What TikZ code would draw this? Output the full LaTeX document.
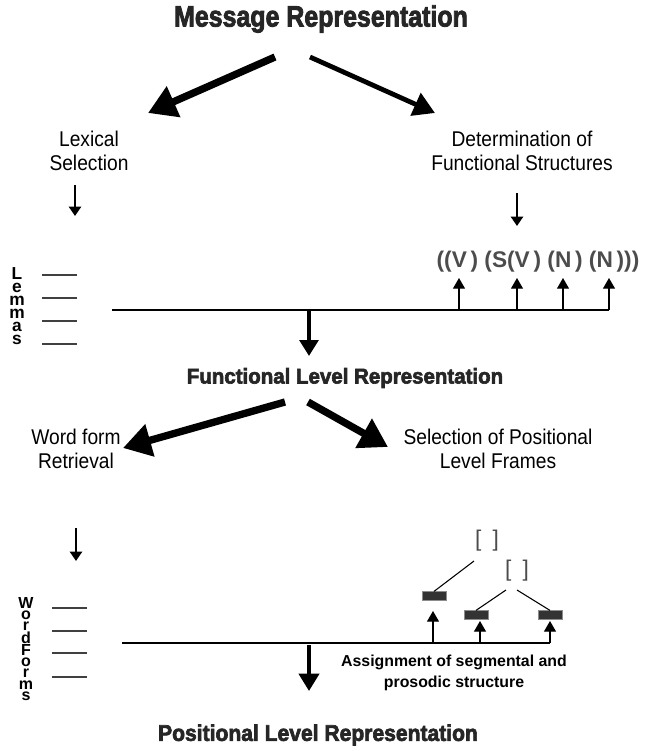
\documentclass[tikz,border=0pt]{standalone}
\usepackage{fontspec}
\setmainfont{Liberation Sans}
\newfontfamily\heavyfont[BoldFeatures={FakeBold=3}]{Liberation Sans}
\usetikzlibrary{arrows.meta}
\tikzset{
  title/.style={font=\heavyfont\bfseries, text=black!85, inner sep=0pt},
  lbl/.style={font=\fontsize{16}{17.5}\selectfont, align=center, inner sep=0pt},
  small/.style={font=\fontsize{11.9}{15.75}\selectfont\bfseries, align=center, inner sep=0pt},
  bigarrow/.style={line width=5.5pt, -{Triangle[length=21pt,width=24pt]}},
  medarrow/.style={line width=3.6pt, -{Triangle[length=16pt,width=18pt]}},
  downarrow/.style={line width=2.2pt, -{Triangle[length=7pt,width=9pt]}},
  uparrow/.style={line width=0.9pt, -{Triangle[length=8pt,width=9pt]}},
  baseline/.style={line width=1pt},
  tick/.style={line width=0.9pt, black!75},
  stackA/.style={font=\fontsize{13}{9.75}\selectfont\bfseries, align=center, inner sep=0pt},
  stackB/.style={font=\fontsize{12}{8.5}\selectfont\bfseries, align=center, inner sep=0pt},
  brk/.style={font=\fontsize{17}{17}\selectfont, text=black!70, inner sep=0pt},
  seg/.style={fill=black!80, draw=black!45, minimum width=18pt, minimum height=6.5pt, inner sep=0pt},
}
\begin{document}
\begin{tikzpicture}[x=0.75pt,y=-0.75pt]
\useasboundingbox (0,0) rectangle (644,751);
% titles
\node[title] (msg) at (321,19) {\fontsize{22}{24}\selectfont\scalebox{0.85}[1]{Message Representation}};
\node[title] (fun) at (345,378) {\fontsize{16}{18}\selectfont\scalebox{0.96}[1]{Functional Level Representation}};
\node[title] (pos) at (318,735) {\fontsize{17}{19}\selectfont\scalebox{0.93}[1]{Positional Level Representation}};
% labels
\node[lbl] (lex) at (89,151) {\scalebox{0.9}[1]{Lexical}\\\scalebox{0.9}[1]{Selection}};
\node[lbl] (det) at (522,151) {\scalebox{0.9}[1]{Determination of}\\\scalebox{0.9}[1]{Functional Structures}};
\node[lbl] (wfr) at (76,449) {\scalebox{0.9}[1]{Word form}\\\scalebox{0.9}[1]{Retrieval}};
\node[lbl] (sel) at (498,449) {\scalebox{0.9}[1]{Selection of Positional}\\\scalebox{0.9}[1]{Level Frames}};
\node[small] (asg) at (454,673) {Assignment of segmental and\\prosodic structure};
% top arrows
\coordinate (m1) at (275,57);
\coordinate (m1e) at (148,113);
\coordinate (m2) at (310,57);
\coordinate (m2e) at (435,113);
\draw[bigarrow] (m1) -- (m1e);
\draw[medarrow] (m2) -- (m2e);
% down arrows under labels
\coordinate (d1) at (75,185);
\coordinate (d1e) at (75,216);
\draw[downarrow] (d1) -- (d1e);
\coordinate (d2) at (517,193);
\coordinate (d2e) at (517,226);
\draw[downarrow] (d2) -- (d2e);
% structure
\node[font=\fontsize{17}{19}\selectfont\bfseries, text=black!70, inner sep=0pt] (struct) at (538,262) {((V\,) (S(V\,) (N\,) (N\,)))};
% lemmas
\node[stackA] (lem) at (17,306) {L\\e\\m\\m\\a\\s};
\foreach \y [count=\i] in {275,298,321,344} {
  \coordinate (la\i) at (42,\y); \coordinate (lb\i) at (77,\y);
  \draw[tick] (la\i) -- (lb\i);
}
% base line 1
\coordinate (b1s) at (112,310);
\coordinate (b1e) at (609,310);
\draw[baseline] (b1s) -- (b1e);
\foreach \x [count=\i] in {459,517,563,609} {
  \coordinate (u\i) at (\x,310); \coordinate (ue\i) at (\x,278);
  \draw[uparrow] (u\i) -- (ue\i);
}
% central down arrow
\coordinate (c1) at (309,311);
\coordinate (c1e) at (309,356);
\draw[line width=3pt, -{Triangle[length=12pt,width=14pt]}] (c1) -- (c1e);
% middle arrows
\coordinate (f1) at (285,402);
\coordinate (f1e) at (123,448);
\coordinate (f2) at (308,402);
\coordinate (f2e) at (388,447);
\draw[bigarrow] (f1) -- (f1e);
\draw[bigarrow] (f2) -- (f2e);
% down arrow under word form retrieval
\coordinate (d3) at (76,528);
\coordinate (d3e) at (76,561);
\draw[downarrow] (d3) -- (d3e);
% word forms
\node[stackB] (wf) at (26,649) {W\\o\\r\\d\\F\\o\\r\\m\\s};
\foreach \y [count=\i] in {608,631,653,677} {
  \coordinate (wa\i) at (52,\y); \coordinate (wb\i) at (87,\y);
  \draw[tick] (wa\i) -- (wb\i);
}
% base line 2
\coordinate (b2s) at (122,643);
\coordinate (b2e) at (550,643);
\draw[baseline] (b2s) -- (b2e);
% frames tree
\node[brk] (br1) at (487,541) {[\,\,\,]};
\node[brk] (br2) at (517,571) {[\,\,\,]};
\node[seg] (s1) at (434,596) {};
\node[seg] (s2) at (476,615) {};
\node[seg] (s3) at (550,615) {};
\coordinate (t1) at (474,561);
\coordinate (t2) at (506,590);
\coordinate (t3) at (517,590);
\draw[line width=0.8pt] (t1) -- (s1.north);
\draw[line width=0.8pt] (t2) -- (s2.north);
\draw[line width=0.8pt] (t3) -- (s3.north);
\coordinate (v1) at (433,643);
\coordinate (v1e) at (433,611);
\coordinate (v2) at (480,643);
\coordinate (v2e) at (480,621);
\coordinate (v3) at (550,643);
\coordinate (v3e) at (550,621);
\draw[uparrow] (v1) -- (v1e);
\draw[uparrow] (v2) -- (v2e);
\draw[uparrow] (v3) -- (v3e);
% bottom down arrow
\coordinate (c2) at (309,645);
\coordinate (c2e) at (309,691);
\draw[line width=3pt, -{Triangle[length=13pt,width=15pt]}] (c2) -- (c2e);
\end{tikzpicture}
\end{document}
